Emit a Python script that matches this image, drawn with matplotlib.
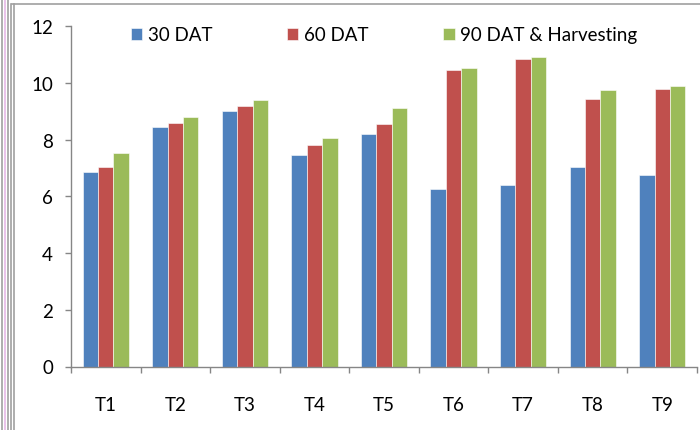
import matplotlib.pyplot as plt
import numpy as np
from matplotlib.lines import Line2D

treatments = ["T1", "T2", "T3", "T4", "T5", "T6", "T7", "T8", "T9"]
dat30 = [6.85, 8.45, 9.0, 7.45, 8.2, 6.25, 6.4, 7.05, 6.75]
dat60 = [7.05, 8.6, 9.2, 7.8, 8.55, 10.45, 10.85, 9.45, 9.8]
dat90 = [7.52, 8.8, 9.4, 8.05, 9.13, 10.53, 10.93, 9.75, 9.9]
series_names = ["30 DAT", "60 DAT", "90 DAT & Harvesting"]

colors = ["#4F81BD", "#C0504D", "#9BBB59"]
axis_grey = "#868686"

plt.rcParams["font.family"] = ["Lato", "DejaVu Sans"]

fig = plt.figure(figsize=(7, 4.31), dpi=100)
ax = fig.add_axes([71 / 700, 63.5 / 431, 626 / 700, 340.2 / 431])

x = np.arange(len(treatments))
w = 0.221
for i, (vals, name) in enumerate(zip([dat30, dat60, dat90], series_names)):
    ax.bar(x + (i - 1) * w, vals, w, color=colors[i], label=name,
           edgecolor="white", linewidth=0.4)

ax.set_xlim(-0.5, len(treatments) - 0.5)
ax.set_ylim(0, 12)
ax.set_yticks(range(0, 13, 2))

# category labels at the centres, tick marks at the boundaries
ax.set_xticks(x)
ax.set_xticklabels(treatments)
ax.set_xticks(np.arange(-0.5, len(treatments)), minor=True)
ax.tick_params(axis="x", which="major", length=0, pad=21, labelsize=13.5)
ax.tick_params(axis="x", which="minor", length=4, color=axis_grey, width=1)
ax.tick_params(axis="y", length=4, color=axis_grey, width=1, pad=9, labelsize=13.5)

for side in ["top", "right"]:
    ax.spines[side].set_visible(False)
for side in ["left", "bottom"]:
    ax.spines[side].set_color(axis_grey)
    ax.spines[side].set_linewidth(1)

ax.legend(loc="upper center", bbox_to_anchor=(0.5, 1.05), ncol=3, frameon=False,
          fontsize=13.5, handlelength=0.6, handleheight=0.6, handletextpad=0.3,
          columnspacing=4.0)

# frame lines around the chart area
fig.add_artist(Line2D([12 / 700, 1], [1 - 5 / 431, 1 - 5 / 431], color="#a0a0a0", lw=1.2))
for px, c in [(11, "#a0a0a0"), (13.5, "#a0a0a0"), (2, "#a0a0a0"), (8, "#a0a0a0"), (5, "#e6b8e6")]:
    fig.add_artist(Line2D([px / 700, px / 700], [0, 1 - 5 / 431 if px > 10 else 1], color=c, lw=1.2))

fig.savefig("out.png", dpi=100)
